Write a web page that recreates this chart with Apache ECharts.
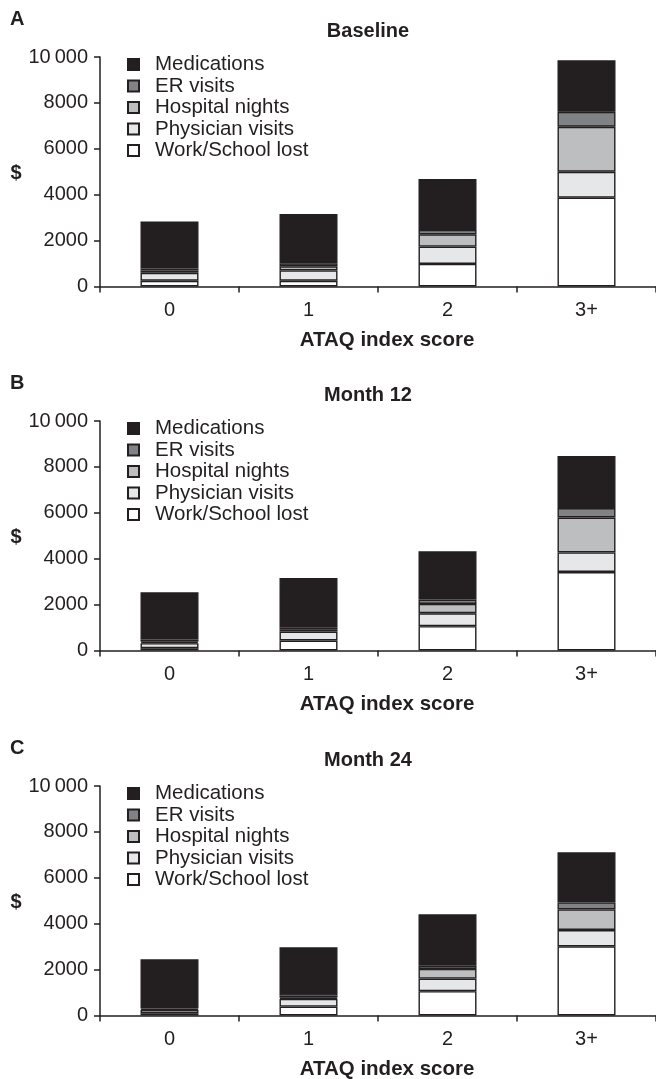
<!DOCTYPE html>
<html>
<head>
<meta charset="utf-8">
<script src="https://cdn.jsdelivr.net/npm/echarts@6/dist/echarts.min.js"></script>
<style>
html,body{margin:0;padding:0;background:#fff;}
#c{width:656px;height:1079px;}
</style>
</head>
<body>
<div id="c"></div>
<script>
// ---- data ----
const categories = ['0', '1', '2', '3+'];
const seriesNames = ['Work/School lost', 'Physician visits', 'Hospital nights', 'ER visits', 'Medications'];
const legendOrder = ['Medications', 'ER visits', 'Hospital nights', 'Physician visits', 'Work/School lost'];
const panelTitles = ['Baseline', 'Month 12', 'Month 24'];
const panelLetters = ['A', 'B', 'C'];
const yTicks = [0, 2000, 4000, 6000, 8000, 10000];

// Baseline
const workA = [250, 250, 985, 3870];
const physA = [350, 450, 755, 1130];
const hospA = [100, 180, 535, 1960];
const erA   = [80, 130, 190, 650];
const medsA = [2050, 2150, 2215, 2245];
// Month 12
const workB = [100, 435, 1058, 3420];
const physB = [220, 390, 565, 855];
const hospB = [60, 100, 406, 1520];
const erB   = [100, 90, 188, 410];
const medsB = [2060, 2145, 2110, 2275];
// Month 24
const workC = [100, 390, 1058, 3014];
const physC = [150, 335, 550, 711];
const hospC = [50, 45, 420, 898];
const erC   = [70, 100, 145, 305];
const medsC = [2080, 2100, 2240, 2180];

const panels = [
  [workA, physA, hospA, erA, medsA],
  [workB, physB, hospB, erB, medsB],
  [workC, physC, hospC, erC, medsC]
];

// ---- style ----
const ink = '#231f20';
const fills = ['#ffffff', '#e6e7e8', '#bcbec0', '#808285', '#231f20'];
const font = '"Liberation Sans", Arial, Helvetica, sans-serif';
const gridTops = [57, 421, 786];
const gridH = 229.5;
const gridLeft = 100;

const grids = [], xAxes = [], yAxes = [], series = [], legends = [], graphics = [];
panels.forEach((p, i) => {
  const top = gridTops[i];
  grids.push({left: gridLeft, right: 0, top: top, height: gridH, containLabel: false});
  xAxes.push({
    type: 'category', gridIndex: i, data: categories,
    axisLine: {lineStyle: {color: ink, width: 1.5}},
    axisTick: {show: true, alignWithLabel: false, length: 6, lineStyle: {color: ink, width: 1.5}},
    axisLabel: {color: ink, fontSize: 20, fontFamily: font, margin: 14},
    splitLine: {show: false}
  });
  yAxes.push({
    type: 'value', gridIndex: i, min: 0, max: 10000, interval: 2000,
    axisLine: {show: true, lineStyle: {color: ink, width: 1.5}},
    axisTick: {show: true, length: 6, lineStyle: {color: ink, width: 1.5}},
    axisLabel: {color: ink, fontSize: 20, fontFamily: font, margin: 12,
      formatter: v => v === 10000 ? '10\u2009000' : String(v)},
    splitLine: {show: false}
  });
  p.forEach((vals, k) => {
    series.push({
      name: seriesNames[k], type: 'bar', stack: 'p' + i,
      xAxisIndex: i, yAxisIndex: i, data: vals, barWidth: 58,
      itemStyle: {color: fills[k], borderColor: ink, borderWidth: 1.4},
      emphasis: {disabled: true}, animation: false
    });
  });
  legends.push({
    data: legendOrder, orient: 'vertical', left: 122, top: top - 8,
    itemWidth: 11, itemHeight: 11, itemGap: 0.5, icon: 'rect',
    selectedMode: false,
    textStyle: {color: ink, fontSize: 20.5, fontFamily: font, lineHeight: 20, padding: [0, 0, 0, 11]}
  });
  graphics.push({type: 'text', left: 10, top: top - 48,
    style: {text: panelLetters[i], font: 'bold 20px ' + font, fill: ink}});
  graphics.push({type: 'text', x: 368, y: top - 26,
    style: {text: panelTitles[i], font: 'bold 20px ' + font, fill: ink, textAlign: 'center', textVerticalAlign: 'middle'}});
  graphics.push({type: 'text', x: 16, y: top + 116,
    style: {text: '$', font: 'bold 20px ' + font, fill: ink, textAlign: 'center', textVerticalAlign: 'middle'}});
  graphics.push({type: 'text', x: 387, y: top + gridH + 54,
    style: {text: 'ATAQ index score', font: 'bold 20.5px ' + font, fill: ink, textAlign: 'center', textVerticalAlign: 'middle'}});
});

const chart = echarts.init(document.getElementById('c'), null, {renderer: 'canvas'});
chart.setOption({
  backgroundColor: '#fff',
  animation: false,
  grid: grids, xAxis: xAxes, yAxis: yAxes, series: series,
  legend: legends, graphic: graphics
});
</script>
</body>
</html>
